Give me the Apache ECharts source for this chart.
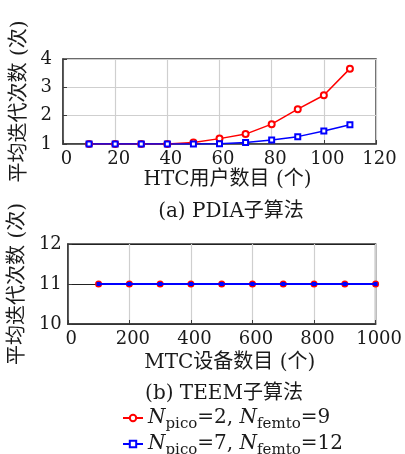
<!DOCTYPE html>
<html>
<head>
<meta charset="utf-8">
<script src="https://cdn.jsdelivr.net/npm/echarts@6/dist/echarts.min.js"></script>
<style>
  html, body { margin: 0; padding: 0; background: #fff; }
  #main { width: 405px; height: 454px; }
</style>
</head>
<body>
<div id="main"></div>
<script>
// (a) PDIA
var htcUsers = [10, 20, 30, 40, 50, 60, 70, 80, 90, 100, 110];
var pdiaRed = [1, 1, 1, 1, 1.05, 1.19, 1.35, 1.70, 2.23, 2.72, 3.66];
var pdiaBlue = [1, 1, 1, 1, 1, 1.01, 1.05, 1.14, 1.26, 1.46, 1.68];
// (b) TEEM
var mtcDevices = [100, 200, 300, 400, 500, 600, 700, 800, 900, 1000];
var teemRed = [11, 11, 11, 11, 11, 11, 11, 11, 11, 11];
var teemBlue = [11, 11, 11, 11, 11, 11, 11, 11, 11, 11];

var nameRed = 'red';
var nameBlue = 'blue';

function pairs(xs, ys) {
    return xs.map(function (x, i) { return [x, ys[i]]; });
}

var serif = '"DejaVu Serif", "Liberation Serif", serif';
var cjk = '"DejaVu Serif", "Noto Sans CJK SC", serif';
var boxColor = '#3a3a3a';
var txt = '#1a1a1a';

var myChart = echarts.init(document.getElementById('main'));

function xAxisOpt(grid, min, max, interval, name, nameGap) {
    return {
        type: 'value', gridIndex: grid, min: min, max: max, interval: interval,
        name: name, nameLocation: 'middle', nameGap: nameGap,
        nameTextStyle: { fontFamily: cjk, fontSize: 20, color: txt, padding: [0, 0, 0, 16] },
        axisLine: { show: true, lineStyle: { color: boxColor, width: 1.5 } },
        axisTick: { show: true, inside: true, length: 4, lineStyle: { color: boxColor } },
        axisLabel: { fontFamily: serif, fontSize: 18, color: txt, margin: 6,
                     padding: [0, 0, 0, 7], formatter: function (v) { return String(v); } },
        splitLine: { show: true, lineStyle: { color: '#cfcfcf', width: 1.2 } }
    };
}

function legendOpt(name, top) {
    return {
        left: 117, top: top, itemWidth: 20, itemHeight: 8, itemGap: 5,
        data: [name],
        formatter: function (n) {
            if (n === nameRed) return '{i|N}{s|pico}{t|=2, }{i|N}{s|femto}{t|=9}';
            return '{i|N}{s|pico}{t|=7, }{i|N}{s|femto}{t|=12}';
        },
        textStyle: {
            color: txt,
            rich: {
                i: { fontFamily: serif, fontStyle: 'italic', fontSize: 20, color: txt },
                t: { fontFamily: serif, fontSize: 20, color: txt },
                s: { fontFamily: serif, fontSize: 15, color: txt, padding: [12, 0, 0, 0] }
            }
        }
    };
}

var option = {
    animation: false,
    backgroundColor: '#fff',
    grid: [
        { left: 63, right: 29, top: 59, height: 85, show: true, borderColor: boxColor, borderWidth: 1.5 },
        { left: 65, right: 28, top: 244, height: 80, show: true, borderColor: boxColor, borderWidth: 1.5 }
    ],
    title: [
        { text: '(a) PDIA子算法', left: 226, top: 197, textAlign: 'center',
          textStyle: { fontFamily: cjk, fontSize: 20, fontWeight: 'normal', color: txt } },
        { text: '(b) TEEM子算法', left: 219, top: 379, textAlign: 'center',
          textStyle: { fontFamily: cjk, fontSize: 20, fontWeight: 'normal', color: txt } }
    ],
    legend: [legendOpt(nameRed, 403), legendOpt(nameBlue, 429)],
    xAxis: [
        xAxisOpt(0, 0, 120, 20, 'HTC用户数目 (个)', 26),
        xAxisOpt(1, 0, 1000, 200, 'MTC设备数目 (个)', 29)
    ],
    yAxis: [
        {
            type: 'value', gridIndex: 0, min: 1, max: 4, interval: 1,
            name: '平均迭代次数 (次)', nameLocation: 'middle', nameGap: 24, nameRotate: 90,
            nameTextStyle: { fontFamily: cjk, fontSize: 20, color: txt },
            axisLine: { show: true, lineStyle: { color: boxColor, width: 1.5 } },
            axisTick: { show: true, inside: true, length: 4, lineStyle: { color: boxColor } },
            axisLabel: { fontFamily: serif, fontSize: 18, color: txt, margin: 11 },
            splitLine: { show: true, lineStyle: { color: '#cfcfcf', width: 1.2 } }
        },
        {
            type: 'value', gridIndex: 1, min: 10, max: 12, interval: 1,
            name: '平均迭代次数 (次)', nameLocation: 'middle', nameGap: 31, nameRotate: 90,
            nameTextStyle: { fontFamily: cjk, fontSize: 20, color: txt },
            axisLine: { show: true, lineStyle: { color: boxColor, width: 1.5 } },
            axisTick: { show: true, inside: true, length: 4, lineStyle: { color: boxColor } },
            axisLabel: { fontFamily: serif, fontSize: 18, color: txt, margin: 6 },
            splitLine: { show: true, lineStyle: { color: '#222', width: 1.2 } }
        }
    ],
    series: [
        {
            name: nameRed, type: 'line', xAxisIndex: 0, yAxisIndex: 0,
            data: pairs(htcUsers, pdiaRed),
            symbol: 'emptyCircle', symbolSize: 6,
            lineStyle: { color: '#ff0000', width: 1.5 },
            itemStyle: { color: '#ff0000', borderWidth: 1.5 }
        },
        {
            name: nameBlue, type: 'line', xAxisIndex: 0, yAxisIndex: 0,
            data: pairs(htcUsers, pdiaBlue),
            symbol: 'emptyRect', symbolSize: 5,
            lineStyle: { color: '#0000ff', width: 1.5 },
            itemStyle: { color: '#0000ff', borderWidth: 1.5 }
        },
        {
            name: nameRed, type: 'line', xAxisIndex: 1, yAxisIndex: 1,
            data: pairs(mtcDevices, teemRed),
            symbol: 'circle', symbolSize: 7, z: 2,
            lineStyle: { color: '#ff0000', width: 1.5 },
            itemStyle: { color: '#ff0000' }
        },
        {
            name: nameBlue, type: 'line', xAxisIndex: 1, yAxisIndex: 1,
            data: pairs(mtcDevices, teemBlue),
            symbol: 'rect', symbolSize: 4, z: 3,
            lineStyle: { color: '#0000ff', width: 2 },
            itemStyle: { color: '#0000ff' }
        }
    ]
};

myChart.setOption(option);
</script>
</body>
</html>
